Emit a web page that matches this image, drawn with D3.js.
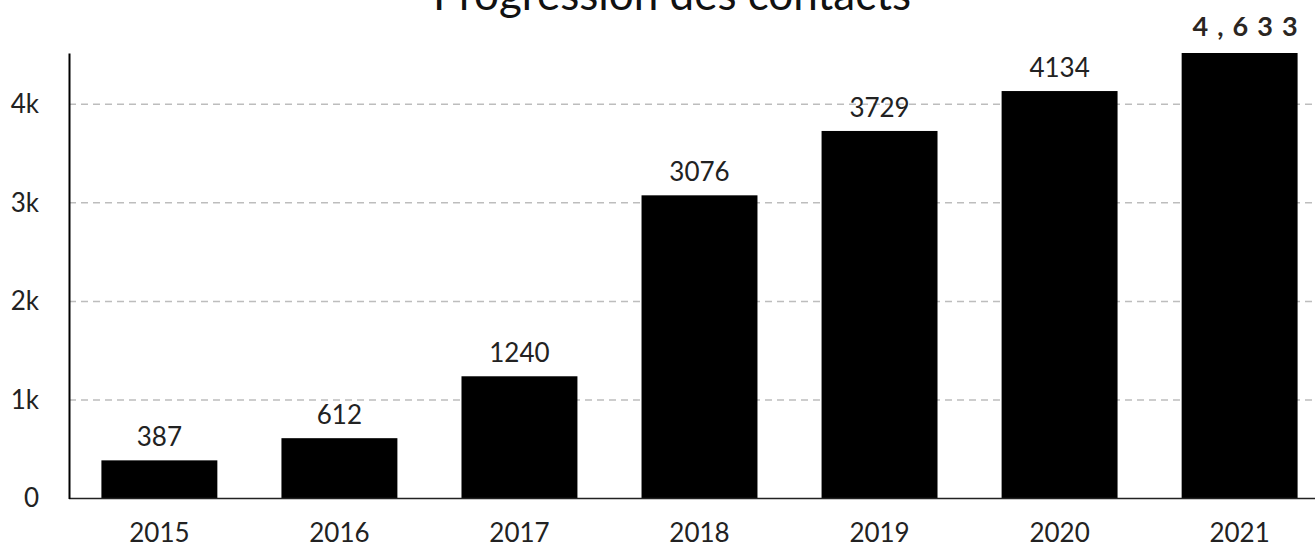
<!DOCTYPE html>
<html>
<head>
<meta charset="utf-8">
<script src="https://cdn.jsdelivr.net/npm/d3@7"></script>
<style>
  body { margin: 0; background: #fff; }
  svg { display: block; font-family: Lato, "Noto Sans", sans-serif; }
</style>
</head>
<body>
<svg id="chart"></svg>
<script>
const svgWidth = 1315;
const svgHeight = 542;

// data
const years = ["2015", "2016", "2017", "2018", "2019", "2020", "2021"];
const contacts = [387, 612, 1240, 3076, 3729, 4134, 4633];
const yTicks = [0, 1000, 2000, 3000, 4000];
const yMax = 4520;
const title = "Progression des contacts";

const svg = d3.select("#chart")
    .attr("width", svgWidth)
    .attr("height", svgHeight);

const x = d3.scaleBand()
    .domain(years)
    .range([69, 1330])
    .paddingInner(0.356)
    .paddingOuter(0.18);

const y = d3.scaleLinear()
    .domain([0, yMax])
    .range([498.5, 53])
    .clamp(true);

// gridlines
svg.append("g")
    .selectAll("line")
    .data(yTicks.filter(d => d > 0))
    .enter()
    .append("line")
    .attr("x1", 69)
    .attr("x2", svgWidth)
    .attr("y1", d => y(d))
    .attr("y2", d => y(d))
    .attr("stroke", "#bdbdbd")
    .attr("stroke-width", 1.5)
    .attr("stroke-dasharray", "7,5");

// bars
svg.append("g")
    .selectAll("rect")
    .data(contacts)
    .enter()
    .append("rect")
    .attr("x", (d, i) => x(years[i]))
    .attr("y", d => y(d))
    .attr("width", x.bandwidth())
    .attr("height", d => y(0) - y(d))
    .attr("fill", "#000");

// value labels (last one is highlighted)
svg.append("g")
    .selectAll("text")
    .data(contacts.slice(0, -1))
    .enter()
    .append("text")
    .attr("x", (d, i) => x(years[i]) + x.bandwidth() / 2)
    .attr("y", d => y(d) - 14)
    .attr("text-anchor", "middle")
    .style("font-size", "26px")
    .style("fill", "#222")
    .text(d => d);

const last = contacts.length - 1;
svg.append("text")
    .attr("x", x(years[last]) + x.bandwidth() + 9)
    .attr("y", 36)
    .attr("text-anchor", "end")
    .style("font-size", "27px")
    .style("font-weight", "bold")
    .style("letter-spacing", "9px")
    .style("fill", "#2b2622")
    .text(d3.format(",")(contacts[last]));

// x axis
const xAxis = d3.axisBottom(x).tickSize(0).tickPadding(25);
const gx = svg.append("g")
    .attr("transform", `translate(0, ${y(0)})`)
    .call(xAxis);
gx.select(".domain")
    .attr("d", `M69,0H${svgWidth}`)
    .attr("stroke", "#222")
    .attr("stroke-width", 1.5);
gx.selectAll("text")
    .style("font-size", "26px")
    .style("font-family", "Lato")
    .attr("fill", "#222");

// y axis
const yAxis = d3.axisLeft(y)
    .tickValues(yTicks)
    .tickFormat(d3.format("~s"))
    .tickSize(0)
    .tickPadding(30);
const gy = svg.append("g")
    .attr("transform", "translate(69, 0)")
    .call(yAxis);
gy.select(".domain")
    .attr("stroke", "#000")
    .attr("stroke-width", 2);
gy.selectAll("text")
    .style("font-size", "26px")
    .style("font-family", "Lato")
    .attr("fill", "#222");

// title (sits partly above the top edge)
svg.append("text")
    .attr("x", 672)
    .attr("y", 10)
    .attr("text-anchor", "middle")
    .style("font-size", "44px")
    .style("fill", "#111")
    .text(title);
</script>
</body>
</html>
